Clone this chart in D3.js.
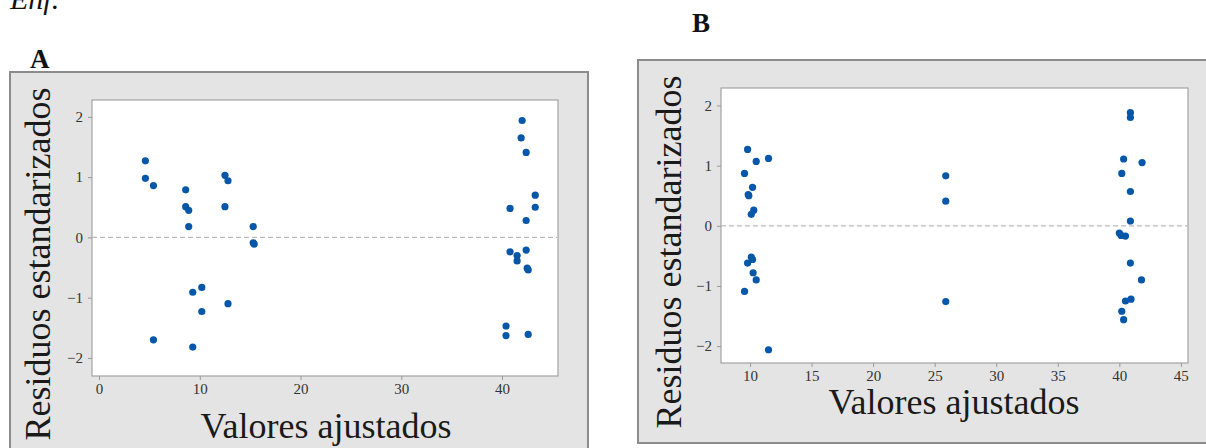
<!DOCTYPE html>
<html>
<head>
<meta charset="utf-8">
<script src="https://cdn.jsdelivr.net/npm/d3@7"></script>
<style>
  body { margin: 0; background: #fff; }
  svg { display: block; }
</style>
</head>
<body>
<svg id="chart" width="1206" height="448"></svg>
<script>
// panel A: residuals vs fitted values
var fittedA = [4.6, 4.6, 5.4, 8.6, 8.6, 8.9, 8.9, 12.5, 12.8, 12.5, 15.3, 15.3, 15.4,
    9.3, 10.2, 10.2, 12.8, 5.4, 9.3,
    42.0, 41.9, 42.4, 43.3, 43.3, 40.8, 42.4, 40.8, 42.4, 41.5, 41.5, 42.5, 42.6, 40.4, 40.4, 42.6];
var residA = [1.27, 0.98, 0.86, 0.79, 0.51, 0.45, 0.18, 1.03, 0.94, 0.51, 0.18, -0.09, -0.11,
    -0.91, -0.83, -1.23, -1.10, -1.70, -1.82,
    1.94, 1.65, 1.41, 0.70, 0.50, 0.48, 0.28, -0.24, -0.21, -0.30, -0.39, -0.51, -0.54, -1.47, -1.63, -1.61];

// panel B
var fittedB = [9.8, 10.5, 11.5, 9.55, 10.2, 9.85, 9.9, 10.3, 10.1, 10.1, 10.2, 9.8, 10.25, 10.5, 9.55, 11.5,
    25.9, 25.9, 25.9,
    40.9, 40.9, 40.35, 41.85, 40.2, 40.9, 40.9, 40.0, 40.15, 40.5, 40.9, 41.8, 40.95, 40.5, 40.2, 40.35];
var residB = [1.27, 1.07, 1.12, 0.87, 0.64, 0.52, 0.50, 0.26, 0.19, -0.52, -0.56, -0.62, -0.78, -0.90, -1.09, -2.06,
    0.83, 0.41, -1.26,
    1.88, 1.80, 1.11, 1.05, 0.87, 0.57, 0.08, -0.12, -0.16, -0.17, -0.62, -0.90, -1.22, -1.25, -1.42, -1.56];

var yTicks = [-2, -1, 0, 1, 2];
var xTicksA = [0, 10, 20, 30, 40];
var xTicksB = [10, 15, 20, 25, 30, 35, 40, 45];

var svg = d3.select("#chart");
var serif = "'Liberation Serif', 'DejaVu Serif', serif";

// heading above the figure, cut off by the crop like in the source
svg.append("text")
    .attr("x", 10).attr("y", 9)
    .style("font-family", serif).style("font-style", "italic")
    .style("font-size", "30px").attr("fill", "#111")
    .text("Enf.");

function drawPanel(p) {
    var g = svg.append("g");

    g.append("rect")
        .attr("x", p.box[0]).attr("y", p.box[1])
        .attr("width", p.box[2]).attr("height", p.box[3])
        .attr("fill", "#e4e4e4")
        .attr("stroke", "#8c8c8c").attr("stroke-width", 2);

    g.append("text")
        .attr("x", p.letterPos[0]).attr("y", p.letterPos[1])
        .style("font-family", serif).style("font-weight", "bold")
        .style("font-size", "27px").attr("fill", "#111")
        .text(p.letter);

    var x = d3.scaleLinear().domain(p.xDomain).range([p.plot[0], p.plot[2]]);
    var y = d3.scaleLinear().domain(p.yDomain).range([p.plot[3], p.plot[1]]);

    g.append("rect")
        .attr("x", p.plot[0]).attr("y", p.plot[1])
        .attr("width", p.plot[2] - p.plot[0]).attr("height", p.plot[3] - p.plot[1])
        .attr("fill", "#fff")
        .attr("stroke", "#a3a3a3").attr("stroke-width", 1.2);

    var xAxis = g.append("g")
        .attr("transform", "translate(0," + p.plot[3] + ")")
        .call(d3.axisBottom(x).tickValues(p.xTicks).tickFormat(d3.format("d"))
            .tickSize(4).tickPadding(3));
    var yAxis = g.append("g")
        .attr("transform", "translate(" + p.plot[0] + ",0)")
        .call(d3.axisLeft(y).tickValues(yTicks).tickFormat(d3.format("d"))
            .tickSize(4).tickPadding(5));

    [xAxis, yAxis].forEach(function(a) {
        a.attr("font-family", null);
        a.select(".domain").remove();
        a.selectAll("line").attr("stroke", "#999");
        a.selectAll("text")
            .style("font-family", serif).style("font-size", "15px")
            .attr("fill", "#333");
    });

    // zero reference line
    g.append("line")
        .attr("x1", p.plot[0]).attr("x2", p.plot[2])
        .attr("y1", y(0)).attr("y2", y(0))
        .attr("stroke", "#bbb").attr("stroke-width", 1.3)
        .attr("stroke-dasharray", "5,3");

    g.append("g")
        .selectAll("circle")
        .data(p.xs.map(function(v, i) { return [v, p.ys[i]]; }))
        .enter()
        .append("circle")
        .attr("cx", function(d) { return x(d[0]); })
        .attr("cy", function(d) { return y(d[1]); })
        .attr("r", 3.6)
        .attr("fill", "#0757a8");

    g.append("text")
        .attr("x", p.xTitle[0]).attr("y", p.xTitle[1])
        .attr("text-anchor", "middle")
        .style("font-family", serif).style("font-size", "36px")
        .attr("fill", "#1a1a1a")
        .text("Valores ajustados");

    g.append("text")
        .attr("transform", "translate(" + p.yTitle[0] + "," + p.yTitle[1] + ") rotate(-90)")
        .attr("text-anchor", "middle")
        .style("font-family", serif).style("font-size", "36px")
        .attr("fill", "#1a1a1a")
        .text("Residuos estandarizados");
}

drawPanel({
    letter: "A", letterPos: [30, 68],
    box: [10, 72, 578, 400],
    plot: [92, 100, 558, 376],
    xDomain: [-0.7, 45.56], yDomain: [-2.30, 2.28],
    xTicks: xTicksA,
    xs: fittedA, ys: residA,
    xTitle: [326, 438], yTitle: [50, 264]
});

drawPanel({
    letter: "B", letterPos: [692, 32],
    box: [638, 60, 600, 383],
    plot: [721, 88, 1188, 363],
    xDomain: [7.64, 45.58], yDomain: [-2.28, 2.29],
    xTicks: xTicksB,
    xs: fittedB, ys: residB,
    xTitle: [954, 414], yTitle: [681, 252]
});
</script>
</body>
</html>
